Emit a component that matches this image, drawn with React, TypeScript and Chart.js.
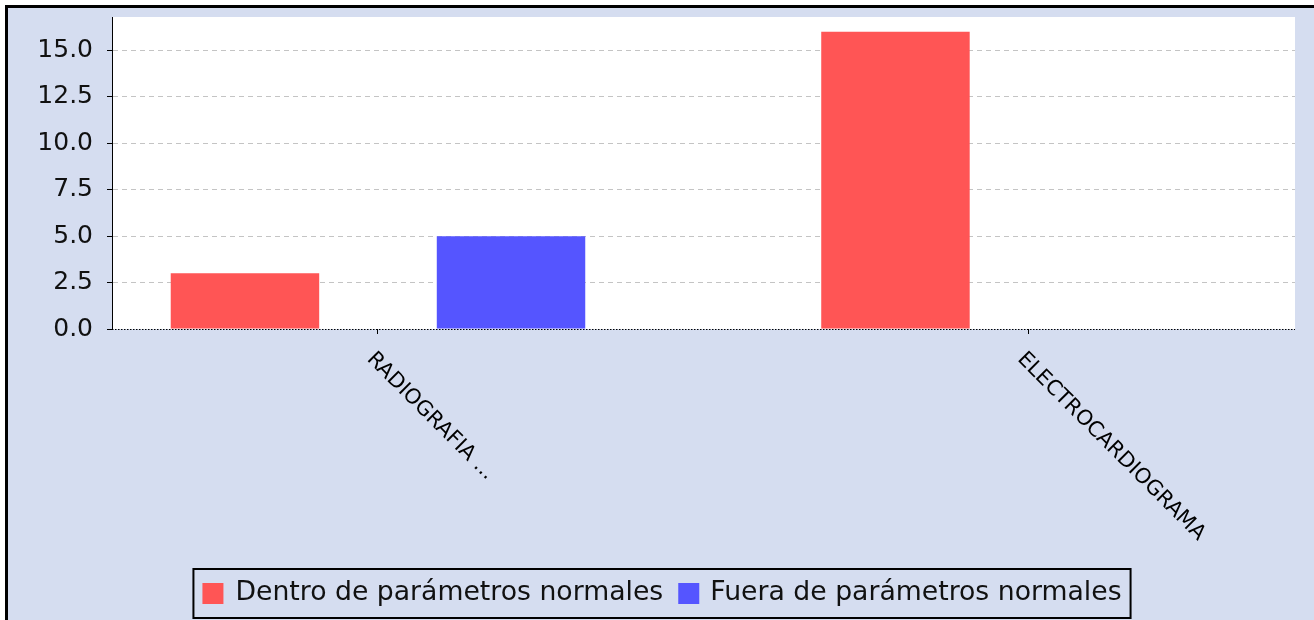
import React, { useEffect, useRef } from "react";
import { Chart, registerables } from "chart.js";

Chart.register(...registerables);

const categories = ["RADIOGRAFIA ...", "ELECTROCARDIOGRAMA"];
const seriesNames = ["Dentro de parámetros normales", "Fuera de parámetros normales"];
const dentroValues = [3, 16];
const fueraValues = [5, 0];
const seriesColors = ["#ff5555", "#5555ff"];
const yTickStep = 2.5;
const yMax = 16.8;

const W = 1314;
const H = 620;
const BG = "#d5ddf0";
const FONT = "'DejaVu Sans', sans-serif";

const backgroundPlugin = {
  id: "bgFrame",
  beforeDraw(chart: any) {
    const ctx = chart.ctx;
    ctx.save();
    ctx.fillStyle = "#ffffff";
    ctx.fillRect(0, 0, W, H);
    ctx.fillStyle = BG;
    ctx.fillRect(8, 8, W, H);
    ctx.strokeStyle = "#000";
    ctx.lineWidth = 3;
    ctx.strokeRect(6.5, 6.5, W + 20, H + 20);
    const a = chart.chartArea;
    ctx.fillStyle = "#ffffff";
    ctx.fillRect(a.left, a.top, a.right - a.left, a.bottom - a.top);
    ctx.restore();
  },
};

const overlayPlugin = {
  id: "overlay",
  afterDatasetsDraw(chart: any) {
    const ctx = chart.ctx;
    const y = chart.scales.y;
    const a = chart.chartArea;
    const y0 = Math.round(y.getPixelForValue(0)) + 0.5;
    ctx.save();
    ctx.strokeStyle = "#000";
    ctx.lineWidth = 1;
    ctx.setLineDash([1.5, 1.5]);
    ctx.beginPath();
    ctx.moveTo(a.left, y0);
    ctx.lineTo(a.right, y0);
    ctx.stroke();
    ctx.restore();
  },
  afterDraw(chart: any) {
    const ctx = chart.ctx;
    const x = chart.scales.x;
    ctx.save();
    ctx.fillStyle = "#000";
    ctx.font = `21px ${FONT}`;
    ctx.textAlign = "left";
    ctx.textBaseline = "middle";
    categories.forEach((c, i) => {
      const px = x.getPixelForValue(i) - 8;
      ctx.save();
      ctx.translate(px, 356);
      ctx.rotate(Math.PI / 4);
      ctx.fillText(c, 0, 0);
      ctx.restore();
    });
    ctx.restore();

    // legend
    ctx.save();
    ctx.font = `26.7px ${FONT}`;
    const w1 = ctx.measureText(seriesNames[0]).width;
    const w2 = ctx.measureText(seriesNames[1]).width;
    const sq = 21;
    const total = 9 + sq + 12 + w1 + 15 + sq + 11 + w2 + 9;
    const cx = 662;
    const left = cx - total / 2;
    const top = 569;
    const bottom = 618;
    ctx.fillStyle = BG;
    ctx.fillRect(left, top, total, bottom - top);
    ctx.strokeStyle = "#000";
    ctx.lineWidth = 2;
    ctx.strokeRect(left, top, total, bottom - top);
    let xx = left + 9;
    const midY = 593.5;
    ctx.textAlign = "left";
    ctx.textBaseline = "middle";
    const widths = [w1, w2];
    seriesNames.forEach((n, i) => {
      ctx.fillStyle = seriesColors[i];
      ctx.fillRect(xx, 583, sq, sq);
      xx += sq + (i === 0 ? 12 : 11);
      ctx.fillStyle = "#111";
      ctx.fillText(n, xx, midY);
      xx += widths[i] + 15;
    });
    ctx.restore();
  },
};

export default function App() {
  const ref = useRef<HTMLCanvasElement>(null);
  useEffect(() => {
    document.body.style.margin = "0";
    const canvas = ref.current!;
    const chart = new Chart(canvas, {
      type: "bar",
      data: {
        datasets: [
          {
            label: seriesNames[0],
            data: categories.map((_, i) => ({ x: i, y: dentroValues[i] })),
            backgroundColor: seriesColors[0],
            borderWidth: 0,
          },
          {
            label: seriesNames[1],
            data: categories.map((_, i) => ({ x: i, y: fueraValues[i] })),
            backgroundColor: seriesColors[1],
            borderWidth: 0,
          },
        ],
      },
      options: {
        animation: false,
        responsive: false,
        devicePixelRatio: 1,
        categoryPercentage: 0.818,
        barPercentage: 0.558,
        layout: { padding: { left: 0, top: 17, right: 19, bottom: 0 } },
        plugins: { legend: { display: false }, tooltip: { enabled: false } },
        scales: {
          x: {
            type: "linear",
            offset: false,
            min: -0.4089,
            max: 1.4097,
            afterBuildTicks: (s: any) => {
              s.ticks = categories.map((_, i) => ({ value: i }));
            },
            afterFit: (s: any) => {
              s.height = H - 329;
              s.paddingLeft = 0;
              s.paddingRight = 0;
            },
            ticks: { display: false },
            grid: {
              offset: false,
              drawOnChartArea: false,
              drawTicks: true,
              tickLength: 5,
              tickColor: "#000",
              tickWidth: 1,
            },
            border: { display: false },
          },
          y: {
            type: "linear",
            min: 0,
            max: yMax,
            afterFit: (s: any) => {
              s.width = 112;
              s.paddingTop = 0;
              s.paddingBottom = 0;
            },
            ticks: {
              stepSize: yTickStep,
              includeBounds: false,
              color: "#111",
              font: { family: FONT, size: 25 },
              padding: 14,
              callback: (v: any) => Number(v).toFixed(1),
            },
            grid: {
              color: (c: any) => (c.tick && c.tick.value === 0 ? "rgba(0,0,0,0)" : "#c4c4c4"),
              lineWidth: 1,
              drawTicks: true,
              tickLength: 5,
              tickColor: "#000",
            },
            border: { display: true, color: "#000", width: 1, dash: [5, 4] },
          },
        },
      },
      plugins: [backgroundPlugin, overlayPlugin],
    } as any);
    return () => chart.destroy();
  }, []);
  return (
    <div style={{ width: W, height: H }}>
      <canvas ref={ref} width={W} height={H} style={{ display: "block" }} />
    </div>
  );
}
